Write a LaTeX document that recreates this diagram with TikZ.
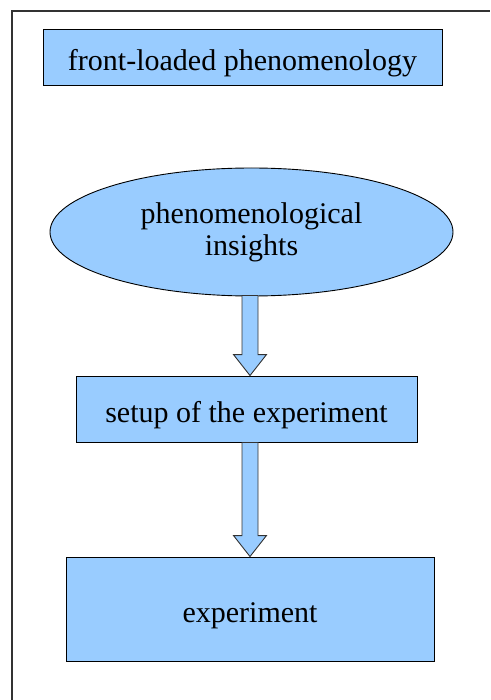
\documentclass[tikz,border=0pt]{standalone}
\usepackage{fontspec}
\setmainfont{Liberation Serif}
\newfontfamily\tnr{Liberation Serif}
\usetikzlibrary{shapes.geometric,calc,shadows}
\definecolor{boxblue}{HTML}{99CCFF}
\tikzset{
  boxstyle/.style={draw=black, line width=0.9pt, fill=boxblue, rectangle, inner sep=0pt,
    font=\tnr\fontsize{30}{33}\selectfont, text height=27.5pt, text depth=0pt,
    drop shadow={shadow xshift=1.3pt, shadow yshift=-1.3pt, fill=black!45, opacity=1}},
  ellstyle/.style={draw=black, line width=0.9pt, fill=boxblue, ellipse, inner sep=0pt,
    align=center, font=\tnr\fontsize{30}{32.3}\selectfont},
  blockarr/.style={draw=black!80, line width=0.9pt, fill=boxblue, line join=miter,
    to path={let \p1=(\tikztostart), \p2=(\tikztotarget) in
      (\x1-8pt,\y1) -- (\x1-8pt,\y2+21pt) -- (\x1-16.5pt,\y2+21pt) -- (\x1,\y2)
      -- (\x1+16.5pt,\y2+21pt) -- (\x1+8pt,\y2+21pt) -- (\x1+8pt,\y1) -- cycle}},
  framestyle/.style={draw=black!80, line width=1.4pt}
}
\begin{document}
\begin{tikzpicture}[x=1pt,y=-1pt]
\useasboundingbox (0,0) rectangle (490,700);
\coordinate (fbl) at (12,700);
\coordinate (ftl) at (12,11);
\coordinate (ftr) at (490,11);
\draw[framestyle] (fbl) -- (ftl) -- (ftr);

\node[boxstyle, minimum width=399pt, minimum height=56pt] (b1) at (242.5,57) {front-loaded phenomenology};
\node[ellstyle, minimum width=403pt, minimum height=128pt] (ell) at (251.5,232) {phenomenological\\insights};
\node[boxstyle, minimum width=341pt, minimum height=66pt] (b2) at (246.5,409) {setup of the experiment};
\node[boxstyle, minimum width=368pt, minimum height=104pt] (b3) at (250,609) {experiment};

\coordinate (axis) at (250,0);
\draw[blockarr] ([yshift=1pt]ell.south -| axis) to (b2.north -| axis);
\draw[blockarr] (b2.south -| axis) to (b3.north -| axis);
\end{tikzpicture}
\end{document}
